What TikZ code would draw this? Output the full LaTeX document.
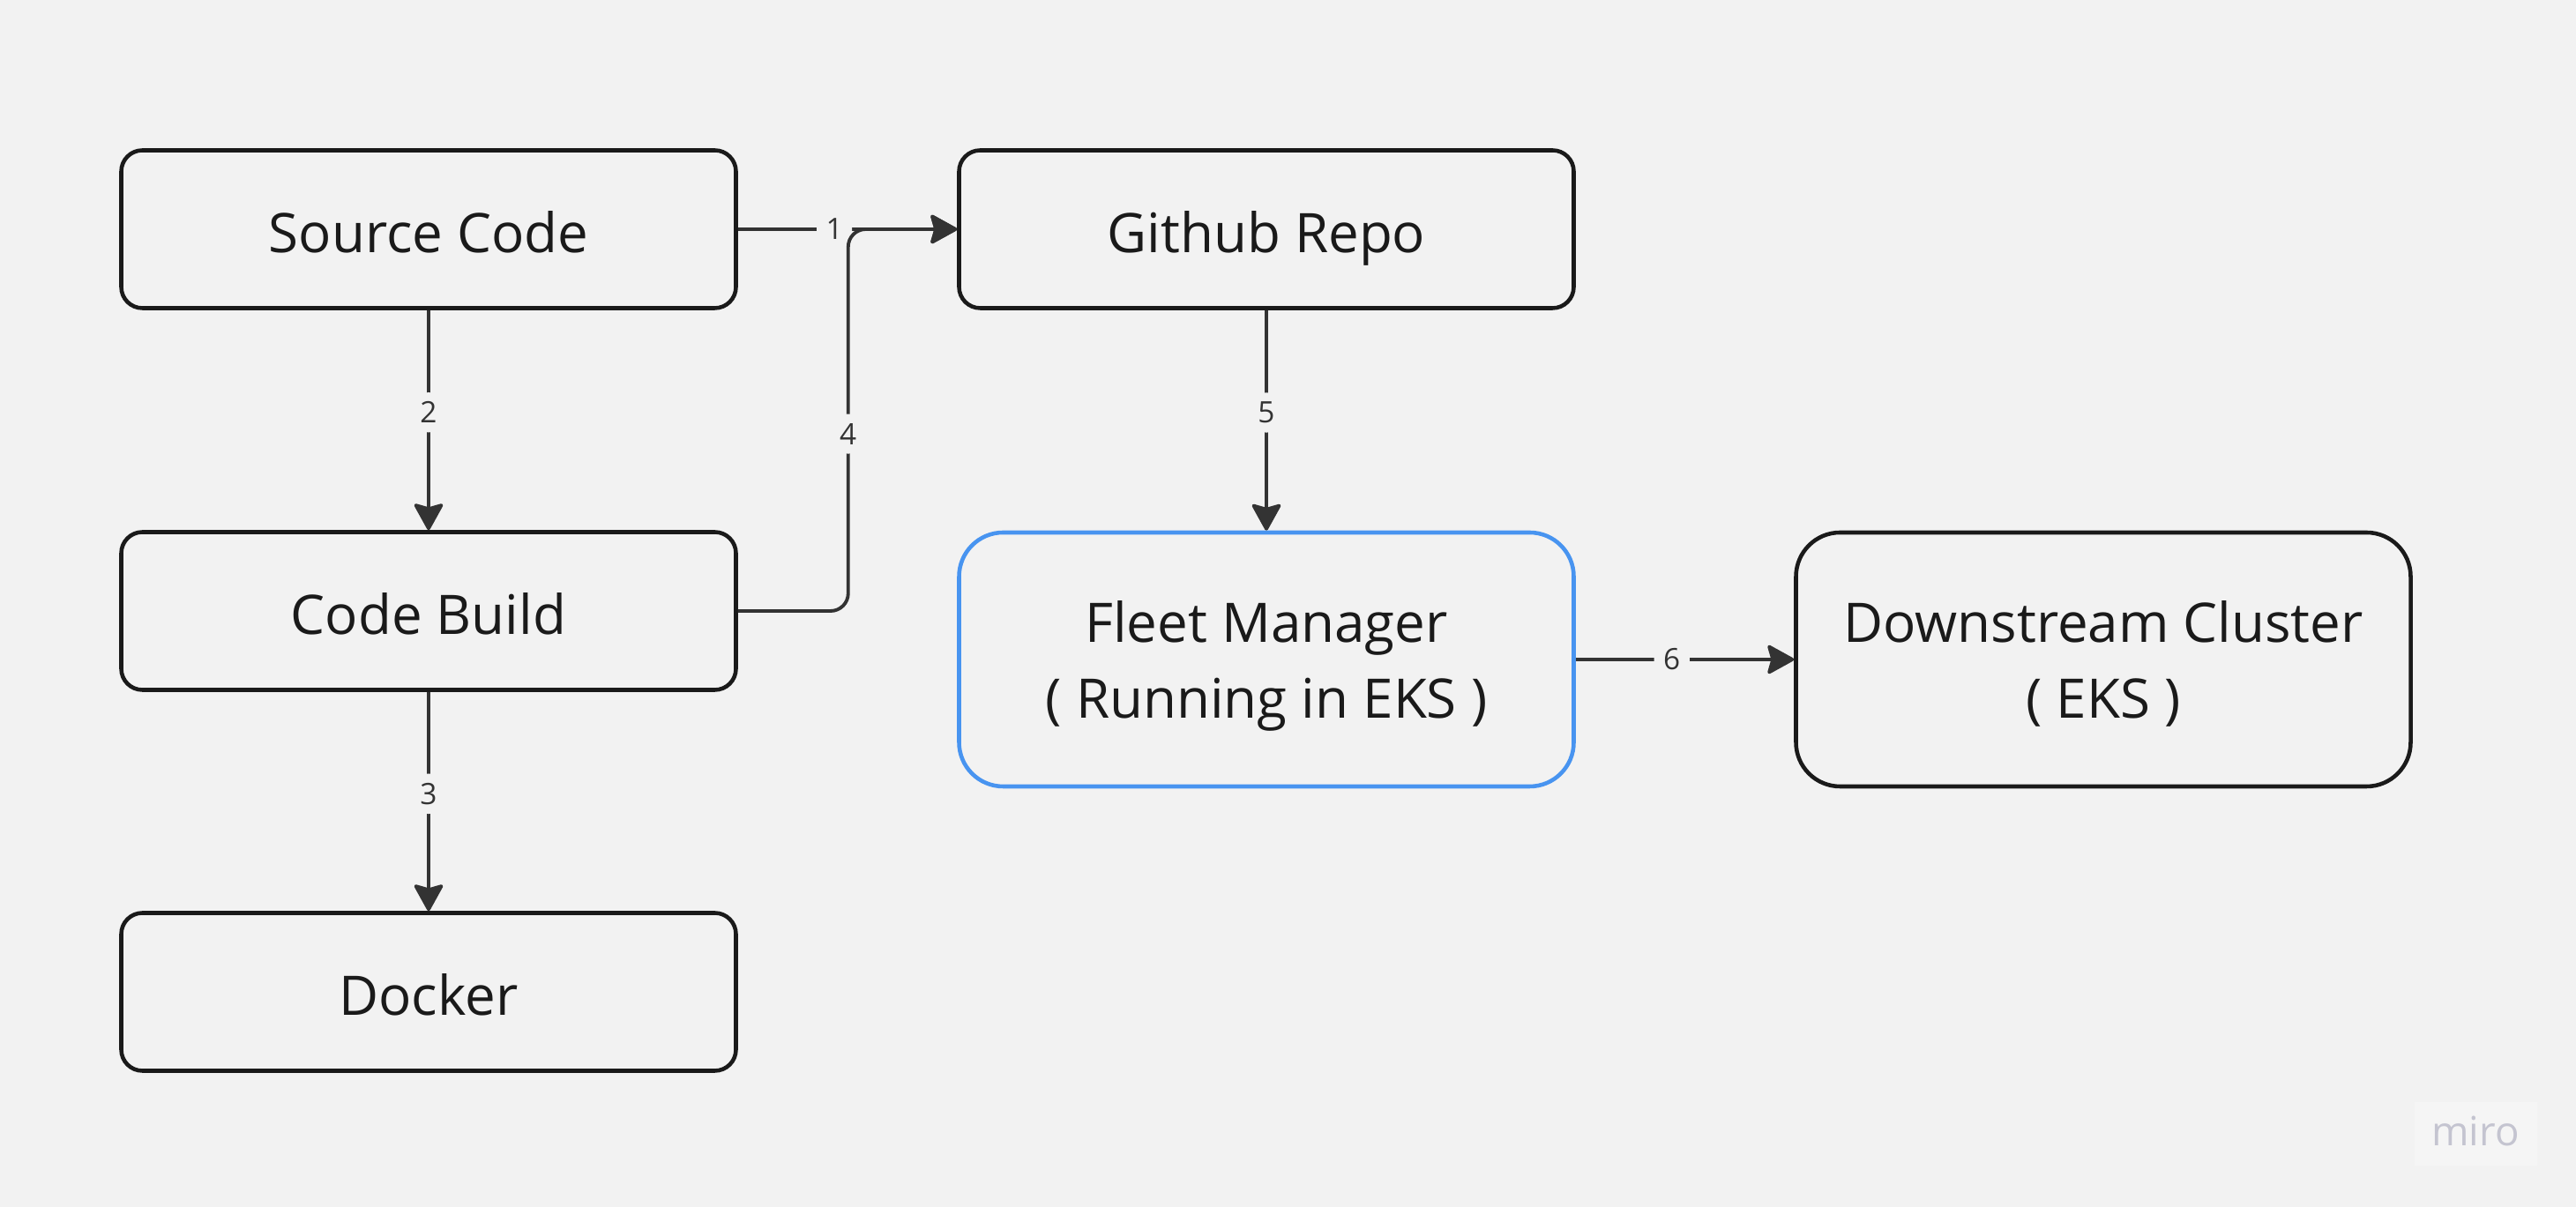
\documentclass[tikz,border=0pt]{standalone}
\usepackage{fontspec}
\setmainfont{Open Sans}
\usetikzlibrary{arrows.meta}
\definecolor{bgcol}{RGB}{242,242,242}
\definecolor{boxcol}{RGB}{26,26,26}
\definecolor{linecol}{RGB}{51,51,51}
\definecolor{fleetcol}{RGB}{72,148,240}
\definecolor{marktxt}{RGB}{196,196,208}
\definecolor{markbg}{RGB}{245,245,245}
\begin{document}
\begin{tikzpicture}[
    stagebox/.style={draw=boxcol, line width=1.3pt, rounded corners=0.24cm,
      minimum width=6.97cm, minimum height=1.79cm, inner sep=0pt,
      text=boxcol, align=center, font=\fontsize{17.6}{24.5}\selectfont,
      text height=15.5pt, text depth=0.5pt},
    tallbox/.style={stagebox, minimum height=2.88cm, rounded corners=0.5cm,
      text height=38.2pt, text depth=0.5pt},
    flow/.style={draw=linecol, line width=1.1pt, rounded corners=0.2cm,
      -{Stealth[length=0.33cm, width=0.36cm, inset=0.05cm, round]}},
    steplabel/.style={fill=bgcol, inner sep=3pt, text=linecol,
      font=\fontsize{9.5}{11}\selectfont}
  ]
    \fill[bgcol] (0,0) rectangle (29.21,13.69);
    \useasboundingbox (0,0) rectangle (29.21,13.69);

    \node[stagebox] (source) at (4.86,11.09) {Source Code};
    \node[stagebox] (build) at (4.86,6.76) {Code Build};
    \node[stagebox] (docker) at (4.86,2.44) {Docker};
    \node[stagebox] (github) at (14.36,11.09) {Github Repo};
    \node[tallbox, draw=fleetcol] (fleet) at (14.36,6.21) {Fleet Manager\\( Running in EKS )};
    \node[tallbox] (downstream) at (23.85,6.21) {Downstream Cluster\\( EKS )};

    \draw[flow] (source.east) -- node[steplabel, pos=0.44] {1} (github.west);
    \draw[flow] (source.south) -- node[steplabel, pos=0.465] {2} (build.north);
    \draw[flow] (build.south) -- node[steplabel, pos=0.465] {3} (docker.north);
    \draw[flow] (build.east) -- ++(1.25,0) |- node[steplabel, pos=0.232] {4} (github.west);
    \draw[flow] (github.south) -- node[steplabel, pos=0.465] {5} (fleet.north);
    \draw[flow] (fleet.east) -- node[steplabel, pos=0.44] {6} (downstream.west);

    \fill[markbg] (27.38,0.47) rectangle (28.77,1.19);
    \node[text=marktxt, font=\fontsize{13}{15}\selectfont] (miro) at (28.07,0.86) {miro};
\end{tikzpicture}
\end{document}
